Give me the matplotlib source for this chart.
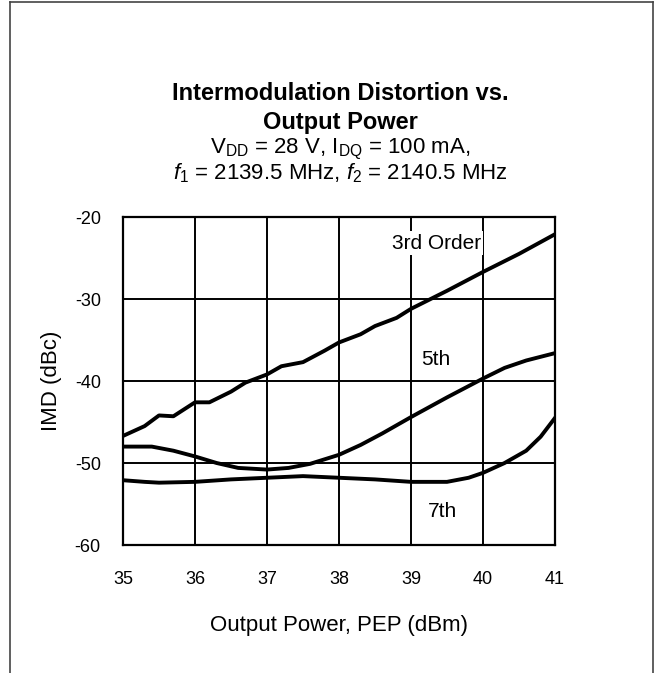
import numpy as np
import matplotlib.pyplot as plt
from matplotlib.lines import Line2D

plt.rcParams['font.family'] = ['Liberation Sans', 'DejaVu Sans']
plt.rcParams['mathtext.fontset'] = 'custom'
plt.rcParams['mathtext.rm'] = 'Liberation Sans'
plt.rcParams['mathtext.it'] = 'Liberation Sans:italic'
plt.rcParams['axes.unicode_minus'] = False

# Dados (Pout em dBm, IMD em dBc)
x_3rd = [35.0, 35.3, 35.5, 35.7, 36.0, 36.2, 36.5, 36.7, 37.0, 37.2, 37.5, 37.8,
         38.0, 38.3, 38.5, 38.8, 39.0, 39.5, 40.0, 40.5, 41.0]
imd_3rd = [-46.7, -45.5, -44.2, -44.3, -42.6, -42.6, -41.3, -40.2, -39.2, -38.2, -37.7, -36.3,
           -35.3, -34.3, -33.3, -32.3, -31.2, -29.0, -26.7, -24.5, -22.1]

x_5th = [35.0, 35.4, 35.7, 36.0, 36.3, 36.6, 37.0, 37.3, 37.6, 38.0, 38.3, 38.6,
         39.0, 39.5, 40.0, 40.3, 40.6, 41.0]
imd_5th = [-48.0, -48.0, -48.5, -49.2, -50.0, -50.6, -50.8, -50.6, -50.1, -49.0, -47.8, -46.4,
           -44.4, -42.0, -39.7, -38.4, -37.5, -36.6]

x_7th = [35.0, 35.3, 35.5, 36.0, 36.5, 37.0, 37.5, 38.0, 38.5, 39.0, 39.5, 39.8,
         40.0, 40.3, 40.6, 40.8, 41.0]
imd_7th = [-52.1, -52.3, -52.4, -52.3, -52.0, -51.8, -51.6, -51.8, -52.0, -52.3, -52.3, -51.8,
           -51.2, -50.0, -48.5, -46.8, -44.5]

x_ticks = [35, 36, 37, 38, 39, 40, 41]
y_ticks = [-60, -50, -40, -30, -20]

fig = plt.figure(figsize=(6.66, 6.73), dpi=100)
W, H = 666, 673
ax = fig.add_axes([123 / W, 1 - 545 / H, (555 - 123) / W, (545 - 217) / H])

for xs, ys in [(x_3rd, imd_3rd), (x_5th, imd_5th), (x_7th, imd_7th)]:
    ax.plot(xs, ys, color='black', linewidth=2.8, zorder=3)

ax.set_xlim(35, 41)
ax.set_ylim(-60, -20)
ax.set_xticks(x_ticks)
ax.set_yticks(y_ticks)
ax.grid(True, color='black', linewidth=1.4)
ax.tick_params(length=0, labelsize=13)
ax.tick_params(axis='x', pad=19)
ax.tick_params(axis='y', pad=16)
for s in ax.spines.values():
    s.set_linewidth(1.6)

ax.set_xlabel('Output Power, PEP (dBm)', fontsize=16, va='center')
ax.set_ylabel('IMD (dBc)', fontsize=16, va='center')
ax.xaxis.set_label_coords(0.5, (545 - 626) / 328)
ax.yaxis.set_label_coords((51 - 123) / 432, 0.5)

# Rótulos das curvas
box = dict(facecolor='white', edgecolor='none', pad=2)
ax.text(39.35, -23.2, '3rd Order', fontsize=15, ha='center', va='center', bbox=box, zorder=4)
ax.text(39.35, -37.4, '5th', fontsize=15, ha='center', va='center', bbox=box, zorder=4)
ax.text(39.44, -55.9, '7th', fontsize=15, ha='center', va='center', bbox=box, zorder=4)

# Título
cx = 340 / W
fig.text(cx, 1 - 94 / H, 'Intermodulation Distortion vs.', fontsize=17, fontweight='bold',
         ha='center', va='center')
fig.text(cx, 1 - 122 / H, 'Output Power', fontsize=17, fontweight='bold', ha='center', va='center')
fig.text(cx, 1 - 149 / H, r'V$_{\mathrm{DD}}$ = 28 V, I$_{\mathrm{DQ}}$ = 100 mA,', fontsize=16,
         ha='center', va='center')
fig.text(cx, 1 - 173 / H, r'$\mathit{f}_{1}$ = 2139.5 MHz, $\mathit{f}_{2}$ = 2140.5 MHz', fontsize=16,
         ha='center', va='center')

# Moldura
bx0, bx1, by0 = 10 / W, 653 / W, 1 - 1.5 / H
for xs, ys in [([bx0, bx0], [-0.1, by0]), ([bx0, bx1], [by0, by0]), ([bx1, bx1], [by0, -0.1])]:
    fig.add_artist(Line2D(xs, ys, transform=fig.transFigure, color='#444444', linewidth=1.2))

fig.savefig('out.png', dpi=100)
